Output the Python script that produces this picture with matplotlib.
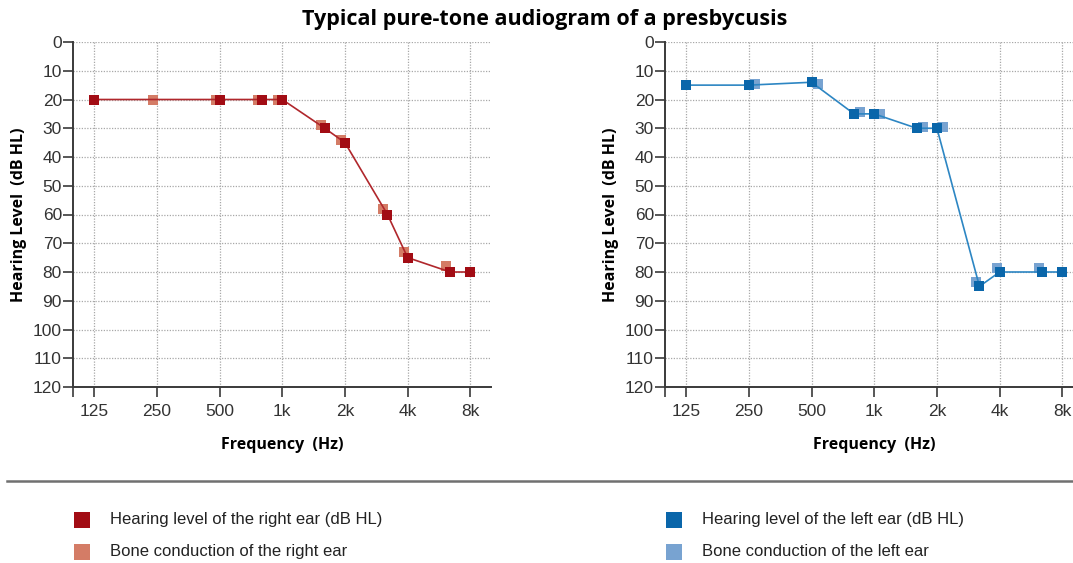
import matplotlib
matplotlib.use('Agg')
import matplotlib.pyplot as plt
from matplotlib.patches import Rectangle
from matplotlib.lines import Line2D
from matplotlib.transforms import offset_copy

# data
tick_freqs = [125, 250, 500, 1000, 2000, 4000, 8000]
tick_labels = ['125', '250', '500', '1k', '2k', '4k', '8k']
levels = list(range(0, 121, 10))

right_air_f = [125, 500, 800, 1000, 1600, 2000, 3200, 4000, 6400, 8000]
right_air_db = [20, 20, 20, 20, 30, 35, 60, 75, 80, 80]
right_bone_f = [250, 500, 800, 1000, 1600, 2000, 3200, 4000, 6400]
right_bone_db = [20, 20, 20, 20, 29, 34, 58, 73, 78]

left_air_f = [125, 250, 500, 800, 1000, 1600, 2000, 3200, 4000, 6400, 8000]
left_air_db = [15, 15, 14, 25, 25, 30, 30, 85, 80, 80, 80]
left_bone_f = [250, 500, 800, 1000, 1600, 2000, 3200, 4000, 6400]
left_bone_db = [14.5, 14.5, 24.5, 25, 29.5, 29.5, 83.5, 78.5, 78.5]

legend_labels = ['Hearing level of the right ear (dB HL)', 'Bone conduction of the right ear',
                 'Hearing level of the left ear (dB HL)', 'Bone conduction of the left ear']

RED, SALMON = '#a20c14', '#d47c66'
BLUE, LBLUE = '#0a66aa', '#78a3d1'
narrow = ['Liberation Sans', 'DejaVu Sans']
bold = ['Open Sans', 'DejaVu Sans']

fig = plt.figure(figsize=(10.73, 5.63), dpi=100)

def setup(ax):
    ax.set_xscale('log')
    ax.set_xlim(99, 10050)
    ax.set_ylim(120, 0)
    ax.set_xticks(tick_freqs)
    ax.set_xticklabels(tick_labels)
    ax.set_xticks([99], minor=True)
    ax.set_xticklabels([''], minor=True)
    ax.set_yticks(levels)
    ax.grid(True, which='major', linestyle=(0, (1, 1.2)), color='#a8a8a8', lw=0.9)
    for s in ['top', 'right']:
        ax.spines[s].set_visible(False)
    for s in ['left', 'bottom']:
        ax.spines[s].set_color('#3a3a3a')
        ax.spines[s].set_linewidth(1.4)
    ax.tick_params(axis='both', which='both', direction='out', length=7, width=1.2,
                   color='#3a3a3a', labelcolor='#333333', labelsize=12.5)
    ax.tick_params(axis='y', pad=1)
    ax.tick_params(axis='x', pad=5)
    for t in ax.get_xticklabels() + ax.get_yticklabels():
        t.set_fontfamily(narrow)
    ax.set_xlabel('Frequency  (Hz)', fontfamily=bold, fontweight='bold', fontsize=11.5, labelpad=13)
    ax.set_ylabel('Hearing Level  (dB HL)', fontfamily=bold, fontweight='bold', fontsize=11.5, labelpad=4)

ax1 = fig.add_axes([73/1073, 1-387/563, 418/1073, 345/563])
ax2 = fig.add_axes([665/1073, 1-387/563, 418/1073, 345/563])
setup(ax1)
setup(ax2)

ms = 7.4
# right ear
tr = offset_copy(ax1.transData, fig=fig, x=-4, y=0, units='dots')
ax1.plot(right_bone_f, right_bone_db, 's', color=SALMON, ms=ms, mew=0, transform=tr, zorder=3)
ax1.plot(right_air_f, right_air_db, '-', color='#b0272c', lw=1.2, zorder=4)
ax1.plot(right_air_f, right_air_db, 's', color=RED, ms=ms, mew=0, zorder=5)

# left ear
tr_a = offset_copy(ax2.transData, fig=fig, x=6, y=0, units='dots')
tr_b = offset_copy(ax2.transData, fig=fig, x=-3, y=0, units='dots')
lo = [i for i, f in enumerate(left_bone_f) if f <= 2000]
hi = [i for i, f in enumerate(left_bone_f) if f > 2000]
ax2.plot([left_bone_f[i] for i in lo], [left_bone_db[i] for i in lo], 's', color=LBLUE,
         ms=ms, mew=0, transform=tr_a, zorder=3)
ax2.plot([left_bone_f[i] for i in hi], [left_bone_db[i] for i in hi], 's', color=LBLUE,
         ms=ms, mew=0, transform=tr_b, zorder=3)
ax2.plot(left_air_f, left_air_db, '-', color='#2d86c3', lw=1.2, zorder=4)
ax2.plot(left_air_f, left_air_db, 's', color=BLUE, ms=ms, mew=0, zorder=5)

fig.text(545/1073, 1-19/563, 'Typical pure-tone audiogram of a presbycusis', ha='center', va='center',
         fontfamily=bold, fontweight='bold', fontsize=15.5)

# separator and legend
fig.add_artist(Line2D([7/1073, 1], [1-481/563, 1-481/563], color='#707070', lw=1.8))
colors = [RED, SALMON, BLUE, LBLUE]
pos = [(81.5, 519.5), (81.5, 551.5), (673.5, 519.5), (673.5, 551.5)]
for c, (x, y), lab in zip(colors, pos, legend_labels):
    fig.add_artist(Rectangle(((x-8)/1073, 1-(y+8)/563), 16/1073, 16/563, color=c, lw=0))
    fig.text((x+28.5)/1073, 1-y/563, lab, ha='left', va='center', fontfamily=narrow,
             fontsize=12, color='#222222')

fig.savefig('out.png', dpi=100)
